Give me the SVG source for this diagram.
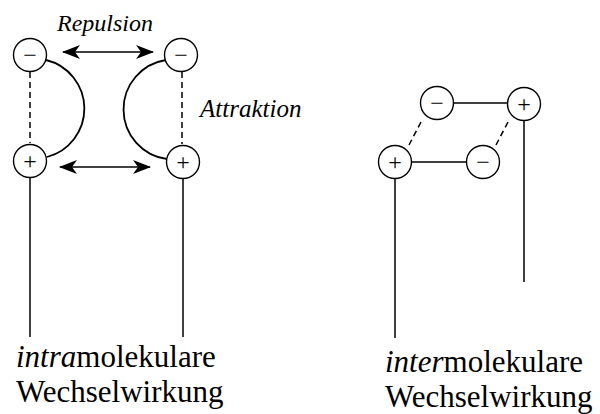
<svg xmlns="http://www.w3.org/2000/svg" width="600" height="414" viewBox="0 0 600 414">
<defs>
<style>
.c{fill:#fff;stroke:#000;stroke-width:1.4}
.ln{stroke:#000;stroke-width:1.5;fill:none}
.ds{stroke:#000;stroke-width:1.5;fill:none;stroke-dasharray:6,4}
.arc{stroke:#000;stroke-width:1.8;fill:none}
.serif{font-family:'Liberation Serif','Times New Roman','DejaVu Serif','Noto Serif',serif}
</style>
<marker id="ah" viewBox="0 0 18 14" refX="17" refY="7" markerWidth="18" markerHeight="14" markerUnits="userSpaceOnUse" orient="auto-start-reverse">
<path d="M0,0 L18,7 L0,14 L5,7 Z" fill="#000"/>
</marker>
</defs>
<rect width="600" height="414" fill="#fff"/>
<g id="connectors">
<line class="ds" x1="30" y1="72" x2="30" y2="143"/>
<line class="ds" x1="182" y1="72" x2="182" y2="144"/>
<path class="arc" d="M46,60 A50,50 0 0 1 47,157"/>
<path class="arc" d="M166,60 A50,50 0 0 0 167,159"/>
<line class="ln" x1="63" y1="52" x2="153" y2="52" marker-start="url(#ah)" marker-end="url(#ah)"/>
<line class="ln" x1="60" y1="167" x2="150" y2="167" marker-start="url(#ah)" marker-end="url(#ah)"/>
<line class="ln" x1="30" y1="177" x2="30" y2="337"/>
<line class="ln" x1="183" y1="178" x2="183" y2="337"/>
<line class="ln" x1="453" y1="103" x2="508" y2="103"/>
<line class="ln" x1="412" y1="162" x2="467" y2="162"/>
<line class="ds" x1="421" y1="122" x2="409" y2="145"/>
<line class="ds" x1="508" y1="122" x2="496" y2="145"/>
<line class="ln" x1="395" y1="178" x2="395" y2="338"/>
<line class="ln" x1="524" y1="120" x2="524" y2="282"/>
</g>
<g class="serif" font-size="24" text-anchor="middle" fill="#000">
<g id="n1"><circle class="c" cx="30" cy="55" r="16.5"/><text x="30" y="63">−</text></g>
<g id="n2"><circle class="c" cx="181" cy="55" r="16.5"/><text x="181" y="63">−</text></g>
<g id="n3"><circle class="c" cx="30" cy="161" r="16.5"/><text x="30" y="169">+</text></g>
<g id="n4"><circle class="c" cx="183" cy="162" r="16.5"/><text x="183" y="170">+</text></g>
<g id="n5"><circle class="c" cx="437" cy="103" r="16.5"/><text x="437" y="111">−</text></g>
<g id="n6"><circle class="c" cx="524" cy="104" r="16.5"/><text x="524" y="112">+</text></g>
<g id="n7"><circle class="c" cx="395" cy="162" r="16.5"/><text x="395" y="170">+</text></g>
<g id="n8"><circle class="c" cx="483" cy="162" r="16.5"/><text x="483" y="170">−</text></g>
</g>
<g id="labels" class="serif" fill="#000">
<text x="57" y="31" font-size="24" font-style="italic">Repulsion</text>
<text x="200" y="117" font-size="25" font-style="italic">Attraktion</text>
<text x="16" y="367" font-size="31"><tspan font-style="italic">intra</tspan>molekulare</text>
<text x="16" y="402" font-size="31">Wechselwirkung</text>
<text x="385" y="372" font-size="31"><tspan font-style="italic">inter</tspan>molekulare</text>
<text x="385" y="407" font-size="31">Wechselwirkung</text>
</g>
</svg>
